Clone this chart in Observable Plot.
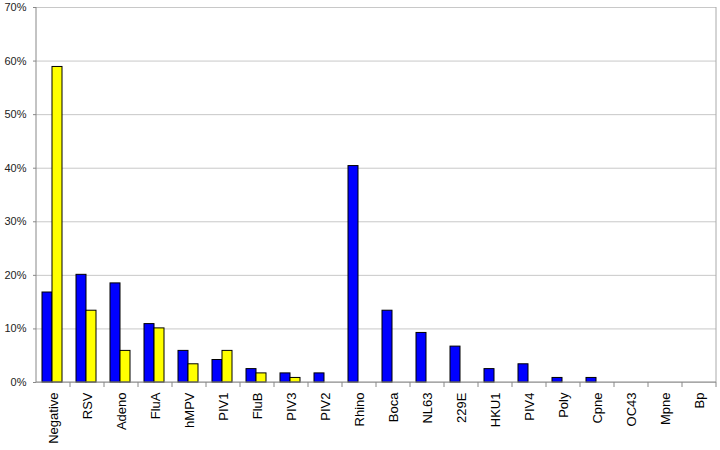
<!DOCTYPE html>
<html>
<head>
<meta charset="utf-8">
<script src="https://cdn.jsdelivr.net/npm/d3@7"></script>
<script src="https://cdn.jsdelivr.net/npm/@observablehq/plot@0.6"></script>
<style>
  html, body { margin: 0; padding: 0; background: #fff; }
  #chart { width: 720px; height: 450px; }
</style>
</head>
<body>
<div id="chart"></div>
<script>
const categories = ["Negative","RSV","Adeno","FluA","hMPV","PIV1","FluB","PIV3","PIV2","Rhino","Boca","NL63","229E","HKU1","PIV4","Poly","Cpne","OC43","Mpne","Bp"];
const seriesNames = ["Series 1", "Series 2"];
const series1 = [16.8,20.1,18.5,10.9,5.9,4.2,2.5,1.7,1.7,40.4,13.4,9.25,6.7,2.5,3.4,0.85,0.85,0,0,0];
const series2 = [58.9,13.4,5.9,10.1,3.4,5.9,1.7,0.85,0,0,0,0,0,0,0,0,0,0,0,0];
const yTicks = [0,10,20,30,40,50,60,70];

const data = [];
categories.forEach((c, i) => {
  data.push({cat: c, series: seriesNames[0], value: series1[i] / 100});
  data.push({cat: c, series: seriesNames[1], value: series2[i] / 100});
});

const font = "Liberation Sans, Arial, sans-serif";

const chart = Plot.plot({
  width: 720,
  height: 450,
  marginLeft: 36,
  marginRight: 4,
  marginTop: 7,
  marginBottom: 68,
  style: {fontFamily: font, background: "#fff", overflow: "visible"},
  fx: {domain: categories, padding: 0, label: null, axis: null},
  x: {domain: seriesNames, paddingInner: 0, paddingOuter: 0.7, align: 0.45, axis: null},
  y: {domain: [0, 0.7], label: null, axis: null},
  color: {domain: seriesNames, range: ["#0000ff", "#ffff00"]},
  marks: [
    Plot.gridY(yTicks.map(d => d / 100), {stroke: "#c8c8c8", strokeOpacity: 1}),
    Plot.axisY(yTicks.map(d => d / 100), {
      tickFormat: d => Math.round(d * 100) + "%",
      tickSize: 3, tickPadding: 7, fontSize: 11, fill: "#222", stroke: "#888", label: null
    }),
    Plot.axisFx({
      anchor: "bottom", tickRotate: -90, tickSize: 0, tickPadding: 10, fontSize: 13, fill: "#000", label: null
    }),
    Plot.barY(data, {
      fx: "cat", x: "series", y: "value", fill: "series",
      stroke: d => d.value > 0 ? "#000" : "none", strokeWidth: 1
    })
  ]
});

document.getElementById("chart").appendChild(chart);

// Decorations from the library's own scales: axis lines, border, category boundary ticks
const svg = d3.select(chart);
const fx = chart.scale("fx");
const y = chart.scale("y");
const y0 = y.apply(0), yTop = y.apply(0.7);
const left = fx.apply(categories[0]);
const right = fx.apply(categories[categories.length - 1]) + fx.bandwidth;
const g = svg.append("g").attr("stroke-width", 1).attr("fill", "none");
g.append("line").attr("x1", right).attr("x2", right).attr("y1", yTop).attr("y2", y0).attr("stroke", "#aaa");
g.append("line").attr("x1", left).attr("x2", right).attr("y1", y0).attr("y2", y0).attr("stroke", "#888");
g.append("line").attr("x1", left).attr("x2", left).attr("y1", yTop).attr("y2", y0).attr("stroke", "#888");
categories.forEach(c => {
  const xe = fx.apply(c) + fx.bandwidth;
  g.append("line").attr("x1", xe).attr("x2", xe).attr("y1", y0).attr("y2", y0 + 5).attr("stroke", "#888");
});
</script>
</body>
</html>
